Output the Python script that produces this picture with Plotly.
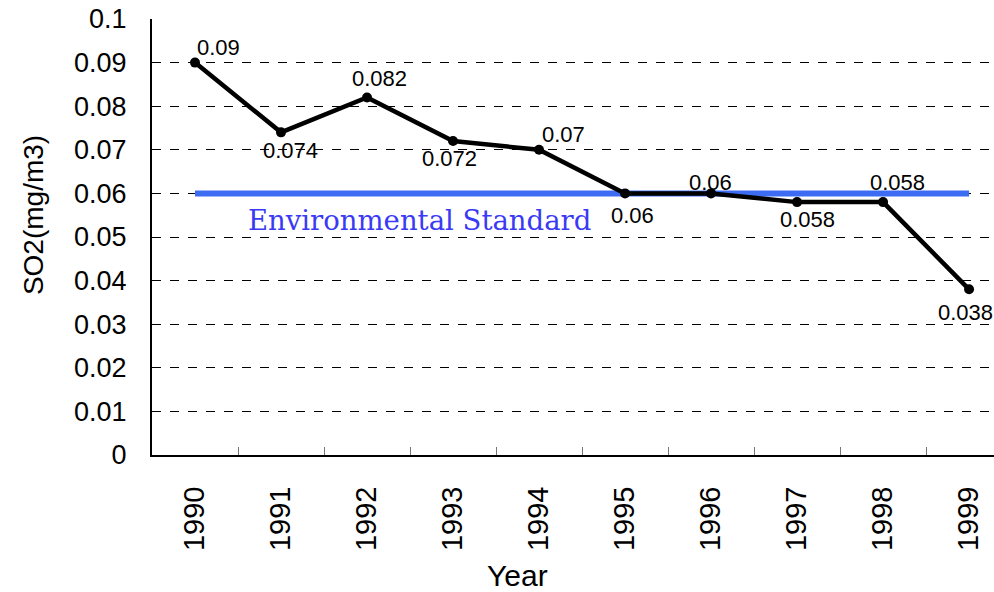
import plotly.graph_objects as go

years = ["1990", "1991", "1992", "1993", "1994", "1995", "1996", "1997", "1998", "1999"]
so2 = [0.09, 0.074, 0.082, 0.072, 0.07, 0.06, 0.06, 0.058, 0.058, 0.038]
label_text = ["0.09", "0.074", "0.082", "0.072", "0.07", "0.06", "0.06", "0.058", "0.058", "0.038"]
standard_value = 0.06
standard_label = "Environmental Standard"

# pixel offsets of each value label relative to its point
label_dx = [23, 9, 12, -4, 24, 7, -1, 10, 14, -4]
label_dy = [15, -18, 19, -17, 15, -22, 11, -17, 20, -23]

SANS = "Liberation Sans, Arial, sans-serif"

fig = go.Figure()

# environmental standard line
fig.add_trace(go.Scatter(
    x=[years[0], years[-1]], y=[standard_value, standard_value],
    mode="lines", line=dict(color="#3c6cf2", width=6),
    hoverinfo="skip", showlegend=False,
))

# SO2 series
fig.add_trace(go.Scatter(
    x=years, y=so2, mode="lines+markers",
    line=dict(color="black", width=4.5),
    marker=dict(color="black", size=10),
    showlegend=False, cliponaxis=False,
))

annotations = []
for i, (v, t, dx, dy) in enumerate(zip(so2, label_text, label_dx, label_dy)):
    annotations.append(dict(
        x=i, y=v, xref="x", yref="y", text=t, showarrow=False,
        xshift=dx, yshift=dy, xanchor="center", yanchor="middle",
        font=dict(family=SANS, size=22, color="black"),
    ))

annotations.append(dict(
    x=0.593, y=0.0539, xref="x", yref="y", text=standard_label, showarrow=False,
    xanchor="left", yanchor="middle",
    font=dict(family="DejaVu Serif, serif", size=27.5, color="#3a3af5"),
))
annotations.append(dict(
    x=-0.140, y=0.5505, xref="paper", yref="paper", text="SO2(mg/m3)",
    showarrow=False, textangle=-90, xanchor="center", yanchor="middle",
    font=dict(family=SANS, size=28, color="black"),
))
annotations.append(dict(
    x=0.4335, y=-0.2775, xref="paper", yref="paper", text="Year",
    showarrow=False, xanchor="center", yanchor="middle",
    font=dict(family=SANS, size=30, color="black"),
))

fig.update_layout(
    width=994, height=592,
    margin=dict(l=152, r=0, t=19, b=137),
    paper_bgcolor="white", plot_bgcolor="white",
    annotations=annotations,
)

fig.update_xaxes(
    type="category", categoryorder="array", categoryarray=years,
    range=[-0.5, 9.29],
    showline=True, linecolor="black", linewidth=2,
    showgrid=False, zeroline=False,
    ticks="inside", tickson="boundaries", ticklen=8, tickcolor="#777777", tickwidth=1,
    tickangle=-90, tickfont=dict(family=SANS, size=29, color="black"),
    ticklabelstandoff=18,
)

fig.update_yaxes(
    range=[0, 0.1], dtick=0.01, tick0=0,
    showline=True, linecolor="black", linewidth=2,
    showgrid=True, gridcolor="black", gridwidth=1, griddash="dash",
    zeroline=False, ticks="",
    tickfont=dict(family=SANS, size=27, color="black"),
    ticklabelstandoff=18,
)

fig.write_html("out.html")
